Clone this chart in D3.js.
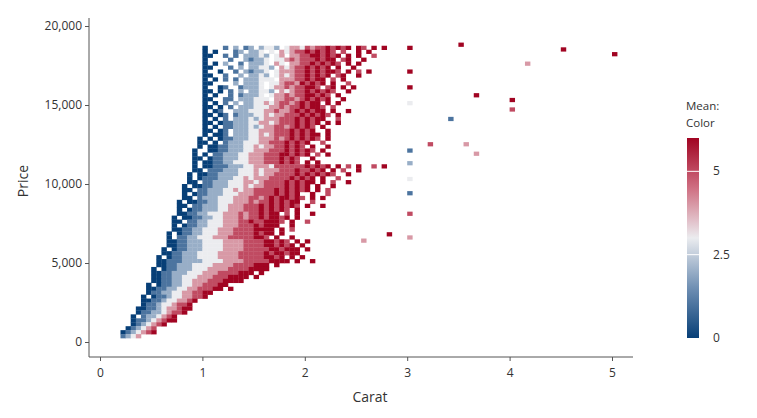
<!DOCTYPE html>
<html><head><meta charset="utf-8">
<script src="https://cdn.jsdelivr.net/npm/d3@7"></script>
<style>body{margin:0;background:#fff}text{font-family:"Segoe UI","Open Sans",sans-serif}</style>
</head><body><svg id="c" width="757" height="418"></svg>
<script>
// Grid: carat bins of 0.05 starting at 0.20, price bins of 250. Row strings from top (price 18500) down to 250.
// '.' = empty, digits = mean color (0..6)
const caratStart = 0.20, caratStep = 0.05, priceStep = 250, topRow = 74;
const gridRows = [
"................0...1.2.12.2332.3443545565656.65.6.6",
"................0.0...12.223.3.43455656565.5..6.6",
"................00..1.1.22232.34.4455665656.6.6..5",
"................0....1..21223.334545556566.56..6",
"................0.0.2..1.2223.43.4455656565.6.6",
"................00...1.2.22332.4345565656.6..6",
"................0..0..1.21223.3444556565665.6.5.6",
"................00..1..2.2232.34345565656.56..6",
"................0.0.1.1.222333.444556566.5.6",
"................00....2.2223.33455465656.6..5",
"................0..01..12223.3445455665.56.6.6",
"................00.0.1.2.22332.43455656565..6",
"................0.0..1.12223.344545566565.6",
"................00..11.222333.44554565656..6",
"................0.0.1.2.223343455456566.6.6",
"................00.0.1.22233344545565665.5",
"................0.01..222333445445656566.6..6",
"................00.01.1222334344555656565.6",
"................0.0.1.222323444555656566..5",
"................00.01122233443455565656.6.6",
"................0.0.112223234455456565.6",
"................00.01.2223344455565656..6",
"................0.001.22233434555656566.6",
"...............0.0.01122233444545656565.6",
"...............00.0.12223334455565656..5",
"...............0.0011222334344556565.6..6",
"..............0..001122233444555656565.6",
"..............0.0.1122233444555665656.5.6",
"..............00.011222334445556565..6",
"..............0.0011223334445556565.6.6",
"..............0.0011122233444355555565656.6.5.6..5.6",
"..............00.11122233343444555655656.6.5..6",
".............0.001122223334344555565656565..6",
".............0.01112223343444555565656.6..5",
".............00.1122233344345555656566.6.5..6",
"............0.00112223334344555565656.6..6",
"............00.1122233434455556565656.6.5",
"............0.011222333444555565656..6..5",
"............00.122233344455456566565.6.6",
"...........0.0011223334445455656566..5",
"...........00.112223344455565656565.6..6",
"...........0.01122233444555656565.6",
"...........00112233344454556566.5.6..6",
"..........0.001122334445455656656.6",
"..........00.1122333444556556665.6..5",
"..........0.0112233344455565666..6",
"..........00112233344455556666.6.5",
".........0.0112233344455556566.6",
".........0.112233344455555665.6..6",
".........001122233334444555566565.6.6",
".........0011222333344445555665656.6",
"........0.0112223333444455555665666.6",
"........001122233334444555556566566",
".......0.01122233334444555556656.6.6",
".......00111222233334444555556666.6..6",
".......0011222333344445555666.6",
"......0.011222333444455556666",
"......00112223334445555666.6",
"......0011223334445556666.6",
"......001122334445556666",
".....0.01122334455566",
".....001122334455566.6",
".....0112233445566",
"....0.01123344556",
"....00112334456",
"....0112334556",
"...00112344566",
"...0112234556",
"..0.1223456",
"..011234566",
"..0123456",
".012345",
"0123456",
"1234."
];
// isolated bins: carat, price, mean color
const outCarat = [3.0,3.0,3.0,3.0,3.0,3.0,3.0,3.0,3.0,3.0,3.5,3.4,3.65,4.0,4.0,4.15,4.5,5.0,3.2,3.55,3.65,2.8,2.55];
const outPrice = [18500,17000,16000,15000,12000,11200,10200,9300,8000,6500,18700,14000,15500,15200,14600,17500,18400,18100,12400,12400,11800,6700,6300];
const outColor = [6,6,6,3,1,2,3,1,5,4,6,1,6,6,5,4,6,6,5,4,4,6,4];
const xTicks = [0,1,2,3,4,5];
const yTicks = [0,5000,10000,15000,20000];
const legendTicks = [0,2.5,5];

const cells = [];
gridRows.forEach((s,i)=>{
  const r = topRow - i;
  for (let j=0;j<s.length;j++){ const ch=s[j]; if(ch!=='.') cells.push({c:caratStart+j*caratStep,p:r*priceStep,v:+ch}); }
});
outCarat.forEach((c,i)=>cells.push({c:c,p:outPrice[i],v:outColor[i]}));

const svg = d3.select("#c");
const x = d3.scaleLinear().domain([0,5]).range([100,612]);
const y = d3.scaleLinear().domain([0,20000]).range([342,26]);
const color = d3.scaleLinear().domain([0,1.5,3,4.5,6]).range(["#073f77","#6f8fb3","#ebecef","#cf6f82","#a10422"]);

svg.append("g").selectAll("rect").data(cells).join("rect")
  .attr("x",d=>x(d.c)).attr("y",d=>y(d.p+priceStep))
  .attr("width",x(caratStep)-x(0)+0.3).attr("height",y(0)-y(priceStep)+0.3)
  .attr("fill",d=>color(d.v));

const gx = svg.append("g").attr("transform","translate(0,357)")
  .call(d3.axisBottom(x).tickValues(xTicks).tickSize(4).tickFormat(d3.format("d")));
gx.select(".domain").attr("d","M89,0H633");
const gy = svg.append("g").attr("transform","translate(89,0)")
  .call(d3.axisLeft(y).tickValues(yTicks).tickSize(4).tickFormat(d3.format(",")));
gy.select(".domain").attr("d","M0,18V357");
[gx,gy].forEach(g=>{g.selectAll("path,line").attr("stroke","#555");g.selectAll("text").attr("fill","#333").attr("font-size",12);});
gx.selectAll("text").attr("dy","1.1em");

svg.append("text").attr("x",370).attr("y",402).attr("text-anchor","middle").attr("font-size",14).attr("fill","#333").text("Carat");
svg.append("text").attr("transform","translate(28,181) rotate(-90)").attr("text-anchor","middle").attr("font-size",14).attr("fill","#333").text("Price");

// legend
const ly = d3.scaleLinear().domain([0,6]).range([338,138]);
const defs = svg.append("defs");
const gr = defs.append("linearGradient").attr("id","lg").attr("x1",0).attr("y1",1).attr("x2",0).attr("y2",0);
d3.range(0,6.01,0.5).forEach(v=>gr.append("stop").attr("offset",v/6).attr("stop-color",color(v)));
svg.append("rect").attr("x",687).attr("y",138).attr("width",12).attr("height",200).attr("fill","url(#lg)");
legendTicks.forEach(t=>{
  if(t>0) svg.append("line").attr("x1",687).attr("x2",699).attr("y1",ly(t)).attr("y2",ly(t)).attr("stroke","#fff");
  svg.append("text").attr("x",713).attr("y",ly(t)+4).attr("font-size",12).attr("fill","#333").text(t);
});
svg.append("text").attr("x",686).attr("y",110).attr("font-size",11.5).attr("fill","#333").text("Mean:");
svg.append("text").attr("x",686).attr("y",127).attr("font-size",11.5).attr("fill","#333").text("Color");
</script></body></html>
